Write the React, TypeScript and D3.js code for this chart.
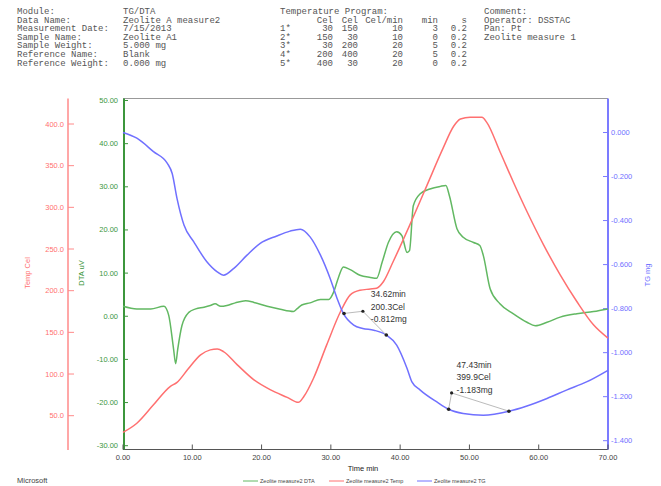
import React from 'react';
import * as d3 from 'd3';

// header info
const infoLabels = ['Module:', 'Data Name:', 'Measurement Date:', 'Sample Name:', 'Sample Weight:', 'Reference Name:', 'Reference Weight:'];
const infoValues = ['TG/DTA', 'Zeolite A measure2', '7/15/2013', 'Zeolite A1', '5.000 mg', 'Blank', '0.000 mg'];
const programHeader = ['Cel', 'Cel', 'Cel/min', 'min', 's'];
const programRows = [
  ['1*', '30', '150', '10', '3', '0.2'],
  ['2*', '150', '30', '10', '0', '0.2'],
  ['3*', '30', '200', '20', '5', '0.2'],
  ['4*', '200', '400', '20', '5', '0.2'],
  ['5*', '400', '30', '20', '0', '0.2'],
];
const commentLines = ['Comment:', 'Operator: DSSTAC', 'Pan: Pt', 'Zeolite measure 1'];

// ticks
const timeTicks = [0, 10, 20, 30, 40, 50, 60, 70];
const tempTicks = [50, 100, 150, 200, 250, 300, 350, 400];
const dtaTicks = [-30, -20, -10, 0, 10, 20, 30, 40, 50];
const tgTicks = [0, -0.2, -0.4, -0.6, -0.8, -1.0, -1.2, -1.4];

// DTA (uV)
const dtaTime = [0, 2, 4, 5.9, 6.6, 7.3, 7.6, 7.9, 8.5, 9.5, 10.5, 11.7, 12.6, 13.3, 14.1, 15.0, 16.2, 17.7, 18.9, 20.8, 22.7, 24.6, 25.1, 25.8, 27.0, 28.5, 29.7, 30.4, 31.1, 31.8, 32.8, 34.2, 35.7, 36.6, 37.4, 38.3, 39.5, 40.25, 41.0, 41.35, 41.9, 42.9, 44.3, 45.8, 46.6, 47.1, 48.2, 49.1, 50.6, 51.5, 52.0, 53.0, 54.4, 56.3, 58.3, 59.5, 61.2, 63.1, 65.5, 67.9, 70];
const dtaValues = [2.3, 1.7, 1.7, 2.3, 0.2, -7.6, -11, -7.6, -2.2, 0.9, 1.7, 2.1, 2.5, 2.9, 2.3, 2.5, 3.1, 3.6, 3.2, 2.3, 1.6, 1.1, 1.7, 2.6, 3.1, 3.9, 3.9, 5.6, 9.0, 11.4, 10.8, 9.5, 9.0, 8.8, 12.5, 17.1, 19.6, 18.7, 14.8, 15.2, 25.6, 28.4, 29.5, 30.1, 30.3, 28.0, 20.3, 18.3, 17.1, 16.4, 14.1, 6.3, 2.9, 0.6, -1.4, -2.2, -1.4, -0.2, 0.6, 1.1, 1.7];

// Temperature (Cel)
const tempTime = [0, 2.0, 4.4, 6.8, 7.8, 9.3, 11.2, 12.6, 13.6, 14.5, 16.5, 18.9, 21.3, 23.7, 25.3, 26.1, 27.5, 29.4, 31.4, 32.8, 34.2, 35.7, 36.6, 37.6, 39.0, 41.4, 43.9, 46.2, 47.7, 48.7, 50.1, 51.8, 52.5, 54.4, 56.3, 58.3, 60.7, 63.1, 65.5, 67.9, 70];
const tempValues = [30, 41, 63, 85, 90, 105, 123, 129, 130, 127, 111, 93, 81, 72, 66, 73, 95, 135, 175, 195, 200.5, 202, 203, 211, 235, 279, 327, 371, 397, 406, 408, 408, 402, 367, 331, 295, 255, 219, 187, 159, 143];

// TG (mg)
const tgTime = [0, 2.0, 4.4, 6.4, 7.1, 7.8, 8.8, 10.2, 12.1, 13.6, 14.5, 16.0, 17.9, 19.8, 22.2, 24.1, 25.6, 27.0, 28.5, 29.9, 30.9, 31.8, 33.3, 34.6, 36.2, 38.0, 39.5, 41.0, 41.7, 42.9, 45.3, 47.0, 49.1, 52.0, 55.7, 58.3, 61.2, 64.0, 66.9, 70];
const tgValues = [0.0, -0.026, -0.087, -0.14, -0.186, -0.30, -0.42, -0.496, -0.587, -0.633, -0.648, -0.617, -0.557, -0.504, -0.47, -0.448, -0.439, -0.474, -0.557, -0.663, -0.754, -0.822, -0.875, -0.89, -0.898, -0.92, -0.966, -1.072, -1.133, -1.17, -1.224, -1.257, -1.276, -1.284, -1.266, -1.242, -1.208, -1.17, -1.133, -1.08];

// step analysis annotations
const stepTime = [34.62, 47.43];
const stepTemp = ['200.3Cel', '399.9Cel'];
const stepTg = [-0.812, -1.183];
const stepPointTimes = [[31.9, 38.0], [47.0, 55.7]];
const stepPointTg = [[-0.822, -0.92], [-1.257, -1.266]];
const stepTextOffset = [[8, -17], [5, -28]];

const legendNames = ['Zeolite measure2 DTA', 'Zeolite measure2 Temp', 'Zeolite measure2 TG'];

const GREEN = '#62b862';
const RED = '#ff7070';
const BLUE = '#7070ff';
const FONT = '"Liberation Sans", Arial, sans-serif';

const App = () => {
  const left = 123, right = 608, top = 98.5, bottom = 449.5;

  const x = d3.scaleLinear().domain([0, 70]).range([left, right]);
  const yDta = d3.scaleLinear().domain([-30, 50]).range([445.7, 100.5]);
  const yTemp = d3.scaleLinear().domain([50, 400]).range([415.7, 124]);
  const yTg = d3.scaleLinear().domain([-1.4, 0]).range([440.7, 132.5]);

  const mk = (ys, t, v) => d3.line().x((d, i) => x(t[i])).y((d, i) => ys(v[i])).curve(d3.curveMonotoneX)(v);

  const redAxisX = 68;
  const cols = [333, 358, 403, 438, 467];

  return (
    <svg width={661} height={486} style={{ position: 'absolute', left: 0, top: 0, background: '#fff' }}>
      {/* header */}
      <g fontFamily='"Liberation Mono", "DejaVu Sans Mono", monospace' fontSize={9} fill="#555">
        {infoLabels.map((l, i) => (
          <g key={l}>
            <text x={17} y={14 + i * 8.6}>{l}</text>
            <text x={123} y={14 + i * 8.6}>{infoValues[i]}</text>
          </g>
        ))}
        <text x={280} y={14}>Temperature Program:</text>
        {programHeader.map((h, j) => (
          <text key={j} x={cols[j]} y={14 + 8.6} textAnchor="end">{h}</text>
        ))}
        {programRows.map((r, i) => (
          <g key={i}>
            <text x={280} y={14 + (i + 2) * 8.6}>{r[0]}</text>
            {r.slice(1).map((v, j) => (
              <text key={j} x={cols[j]} y={14 + (i + 2) * 8.6} textAnchor="end">{v}</text>
            ))}
          </g>
        ))}
        {commentLines.map((c, i) => (
          <text key={i} x={484} y={14 + i * 8.6}>{c}</text>
        ))}
      </g>

      {/* frame */}
      <line x1={left} x2={right} y1={top} y2={top} stroke="#999" strokeWidth={1.2} />
      <line x1={left} x2={right} y1={bottom} y2={bottom} stroke="#555" strokeWidth={1.2} />

      {/* red temp axis */}
      <g fontFamily={FONT} fontSize={7.5} fill={RED}>
        <line x1={redAxisX} x2={redAxisX} y1={top} y2={450} stroke="#ff8a8a" strokeWidth={1.5} />
        {tempTicks.map(t => (
          <g key={t}>
            <line x1={redAxisX} x2={redAxisX + 6} y1={yTemp(t)} y2={yTemp(t)} stroke="#ff8a8a" />
            <text x={redAxisX - 4} y={yTemp(t) + 2.5} textAnchor="end">{t.toFixed(1)}</text>
          </g>
        ))}
        <text transform={`translate(30,273) rotate(-90)`} textAnchor="middle">Temp Cel</text>
      </g>

      {/* green DTA axis */}
      <g fontFamily={FONT} fontSize={7.5} fill="#3c963c">
        <line x1={left + 1} x2={left + 1} y1={top} y2={bottom} stroke="#3c963c" strokeWidth={2} />
        {dtaTicks.map(t => (
          <g key={t}>
            <line x1={left + 1} x2={left + 5} y1={yDta(t)} y2={yDta(t)} stroke="#3c963c" />
            <text x={left - 5} y={yDta(t) + 2.5} textAnchor="end">{t.toFixed(2)}</text>
          </g>
        ))}
        <text transform={`translate(84,273) rotate(-90)`} textAnchor="middle">DTA uV</text>
      </g>

      {/* blue TG axis */}
      <g fontFamily={FONT} fontSize={7.5} fill={BLUE}>
        <line x1={right} x2={right} y1={top} y2={bottom} stroke="#7b7bff" strokeWidth={2} />
        {tgTicks.map(t => (
          <g key={t}>
            <line x1={right - 5} x2={right} y1={yTg(t)} y2={yTg(t)} stroke="#7b7bff" />
            <text x={right + 3} y={yTg(t) + 2.5}>{t.toFixed(3)}</text>
          </g>
        ))}
        <text transform={`translate(650,275) rotate(-90)`} textAnchor="middle">TG mg</text>
      </g>

      {/* time axis */}
      <g fontFamily={FONT} fontSize={7.5} fill="#444">
        {timeTicks.map(t => (
          <g key={t}>
            <line x1={x(t)} x2={x(t)} y1={bottom} y2={bottom - 5} stroke="#555" />
            <text x={x(t)} y={460} textAnchor="middle">{t.toFixed(2)}</text>
          </g>
        ))}
        <text x={363} y={471} textAnchor="middle" fill="#222">Time min</text>
      </g>

      {/* curves */}
      <path d={mk(yDta, dtaTime, dtaValues)} fill="none" stroke={GREEN} strokeWidth={1.5} />
      <path d={mk(yTemp, tempTime, tempValues)} fill="none" stroke={RED} strokeWidth={1.5} />
      <path d={mk(yTg, tgTime, tgValues)} fill="none" stroke={BLUE} strokeWidth={1.5} />

      {/* step annotations */}
      {stepTime.map((st, i) => {
        const ax = x(st), ay = yTg(stepTg[i]);
        const tx = ax + stepTextOffset[i][0], ty = ay + stepTextOffset[i][1];
        return (
          <g key={i} fontFamily={FONT} fontSize={8.5} fill="#333">
            {stepPointTimes[i].map((pt, j) => (
              <g key={j}>
                <line x1={ax} y1={ay} x2={x(pt)} y2={yTg(stepPointTg[i][j])} stroke="#bbb" strokeWidth={1} />
                <circle cx={x(pt)} cy={yTg(stepPointTg[i][j])} r={1.8} fill="#222" />
              </g>
            ))}
            <circle cx={ax} cy={ay} r={1.6} fill="#222" />
            <text x={tx} y={ty + 3}>{st.toFixed(2)}min</text>
            <text x={tx} y={ty + 15.5}>{stepTemp[i]}</text>
            <text x={tx} y={ty + 28}>{stepTg[i].toFixed(3)}mg</text>
          </g>
        );
      })}

      {/* legend */}
      <g fontFamily={FONT} fontSize={5.5} fill="#444">
        {legendNames.map((n, i) => {
          const lx = [243, 329, 417][i];
          return (
            <g key={n}>
              <line x1={lx} x2={lx + 15} y1={481} y2={481} stroke={[GREEN, RED, BLUE][i]} strokeWidth={1} />
              <text x={lx + 17} y={483}>{n}</text>
            </g>
          );
        })}
      </g>

      <text x={17} y={483} fontFamily={FONT} fontSize={7.5} fill="#444">Microsoft</text>
    </svg>
  );
};

export default App;
